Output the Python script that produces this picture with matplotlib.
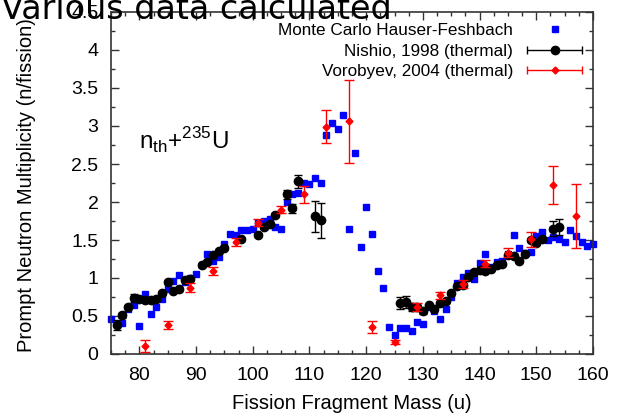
import numpy as np
import matplotlib.pyplot as plt
from matplotlib.container import ErrorbarContainer
from matplotlib.legend_handler import HandlerErrorbar
from matplotlib.ticker import MultipleLocator, FuncFormatter

plt.rcParams['font.family'] = ['Liberation Sans', 'DejaVu Sans']
plt.rcParams['mathtext.fontset'] = 'custom'
plt.rcParams['mathtext.rm'] = 'Liberation Sans'

## Monte Carlo Hauser-Feshbach (blue squares)
mc_mass = [75, 77, 78, 79, 80, 81, 82, 83, 84, 85, 86, 87, 88, 89, 90, 91, 92, 93, 94, 95,
           96, 97, 98, 99, 100, 101, 102, 103, 104, 105, 106, 107, 108, 109, 110, 111, 112,
           113, 114, 115, 116, 117, 118, 119, 120, 121, 122, 123, 124, 125, 126, 127, 128,
           129, 130, 131, 132, 133, 134, 135, 136, 137, 138, 139, 140, 141, 142, 143, 144,
           145, 146, 147, 148, 149, 150, 151, 152, 153, 154, 155, 156, 157, 158, 159, 160]
mc_nu = [0.46, 0.41, 0.59, 0.64, 0.37, 0.79, 0.53, 0.62, 0.73, 0.85, 0.96, 1.04, 0.95, 1.00,
         1.05, 1.17, 1.31, 1.23, 1.28, 1.45, 1.58, 1.56, 1.63, 1.63, 1.65, 1.72, 1.75, 1.78,
         1.67, 1.65, 2.00, 2.10, 2.12, 2.25, 2.24, 2.31, 2.25, 2.88, 3.04, 2.96, 3.15, 1.65,
         2.64, 1.41, 1.94, 1.58, 1.09, 0.87, 0.35, 0.25, 0.34, 0.34, 0.30, 0.42, 0.40, 0.62,
         0.57, 0.46, 0.59, 0.75, 0.94, 1.01, 1.06, 0.99, 1.20, 1.31, 1.14, 1.21, 1.23, 1.32,
         1.57, 1.39, 1.33, 1.34, 1.55, 1.60, 1.50, 1.54, 1.51, 1.47, 1.63, 1.55, 1.48, 1.42,
         1.45]

## Nishio 1998 (black circles)
nishio_mass = [76, 77, 78, 79, 80, 81, 82, 83, 84, 85, 86, 87, 88, 89, 91, 92, 93, 94, 95,
               98, 101, 102, 103, 104, 106, 107, 108, 111, 112,
               126, 127, 128, 129, 130, 131, 132, 133, 134, 135, 136, 137, 138, 139, 140,
               141, 142, 143, 144, 145, 146, 147, 148, 149, 150, 151, 153, 154]
nishio_nu = [0.38, 0.51, 0.62, 0.74, 0.72, 0.71, 0.71, 0.73, 0.80, 0.95, 0.83, 0.85, 0.97,
             0.99, 1.17, 1.21, 1.30, 1.36, 1.40, 1.51, 1.57, 1.67, 1.71, 1.83, 2.10, 1.92,
             2.27, 1.81, 1.76,
             0.67, 0.68, 0.62, 0.62, 0.56, 0.64, 0.59, 0.67, 0.70, 0.80, 0.89, 0.91, 1.01,
             1.08, 1.10, 1.09, 1.12, 1.17, 1.19, 1.30, 1.29, 1.23, 1.32, 1.50, 1.46, 1.51,
             1.65, 1.67]
nishio_err = [0.07, 0.03, 0.03, 0.05, 0.02, 0.02, 0.02, 0.02, 0.02, 0.03, 0.02, 0.02, 0.02,
              0.02, 0.02, 0.02, 0.02, 0.02, 0.02, 0.02, 0.02, 0.02, 0.02, 0.03, 0.06, 0.06,
              0.08, 0.20, 0.23,
              0.08, 0.08, 0.05, 0.03, 0.03, 0.02, 0.02, 0.02, 0.02, 0.02, 0.02, 0.02, 0.02,
              0.02, 0.02, 0.02, 0.02, 0.02, 0.02, 0.02, 0.02, 0.02, 0.02, 0.03, 0.03, 0.03,
              0.10, 0.10]

## Vorobyev 2004 (red diamonds)
vor_mass = [81, 85, 89, 93, 97, 101, 105, 109, 113, 117, 121, 125, 129, 133, 137, 141, 145,
            149, 153, 157]
vor_nu = [0.10, 0.38, 0.87, 1.09, 1.47, 1.73, 1.90, 2.10, 2.99, 3.06, 0.35, 0.16, 0.62,
          0.77, 0.92, 1.19, 1.33, 1.51, 2.22, 1.82]
vor_err = [0.08, 0.05, 0.06, 0.05, 0.05, 0.05, 0.05, 0.11, 0.22, 0.55, 0.08, 0.03, 0.05,
           0.05, 0.05, 0.05, 0.06, 0.10, 0.25, 0.42]

fig = plt.figure(figsize=(6.21, 4.17), dpi=100)
ax = fig.add_axes([111/621, 1-354/417, (593-111)/621, (354-12)/417])

ax.plot(mc_mass, mc_nu, 's', color='#0000ff', ms=4, mec='#0000ff', clip_on=False, zorder=2)
ax.errorbar(nishio_mass, nishio_nu, yerr=nishio_err, fmt='o', color='black', ms=6,
            elinewidth=1, capsize=3, capthick=1, zorder=3)
ax.errorbar(vor_mass, vor_nu, yerr=vor_err, fmt='D', color='#ff0000', ms=3.5,
            elinewidth=1, capsize=3.5, capthick=1, zorder=4)

# legend samples, gnuplot style (horizontal bar with caps)
h_mc, = ax.plot([], [], 's', color='#0000ff', ms=4)
h_ni = ax.errorbar([np.nan], [np.nan], xerr=[1], fmt='o', color='black', ms=6,
                   elinewidth=1, capsize=3)
h_vo = ax.errorbar([np.nan], [np.nan], xerr=[1], fmt='D', color='#ff0000', ms=3.5,
                   elinewidth=1, capsize=3)
leg = ax.legend([h_mc, h_ni, h_vo],
                ['Monte Carlo Hauser-Feshbach', 'Nishio, 1998 (thermal)',
                 'Vorobyev, 2004 (thermal)'],
                handler_map={ErrorbarContainer: HandlerErrorbar(xerr_size=1.6)},
                loc='upper right', bbox_to_anchor=(583/621, 1-23/417),
                bbox_transform=fig.transFigure, frameon=False, markerfirst=False,
                fontsize=12.3, handlelength=3.3, handletextpad=0.8, labelspacing=0.33,
                borderpad=0, borderaxespad=0)

ax.text(80.0, 2.80, r'n$_{\rm th}$+$^{235}$U', fontsize=17.5, ha='left', va='center')

ax.set_xlim(75, 160)
ax.set_ylim(0, 4.5)
ax.xaxis.set_major_locator(MultipleLocator(10))
ax.xaxis.set_minor_locator(MultipleLocator(2.5))
ax.yaxis.set_major_locator(MultipleLocator(0.5))
ax.yaxis.set_minor_locator(MultipleLocator(0.25))
ax.yaxis.set_major_formatter(FuncFormatter(lambda v, p: '%g' % v))
ax.tick_params(which='both', direction='in', top=True, right=True, labelsize=14,
               color='#333333')
ax.tick_params(which='major', length=6, width=1)
ax.tick_params(which='minor', length=3, width=1)
ax.tick_params(axis='x', pad=9)
ax.tick_params(axis='y', pad=9)
for s in ax.spines.values():
    s.set_linewidth(1.2)
    s.set_color('#333333')

fig.text(352/621, 1-409/417, 'Fission Fragment Mass (u)', fontsize=14.5,
         ha='center', va='baseline')
fig.text(27/621, 1-352/417, 'Prompt Neutron Multiplicity (n/fission)', fontsize=14.5,
         rotation=90, ha='center', va='bottom')

fig.text(392/621, 1-19/417, 'Various data calculated', fontsize=24,
         family='DejaVu Sans', ha='right', va='baseline', zorder=10)

fig.savefig('out.png', dpi=100)
